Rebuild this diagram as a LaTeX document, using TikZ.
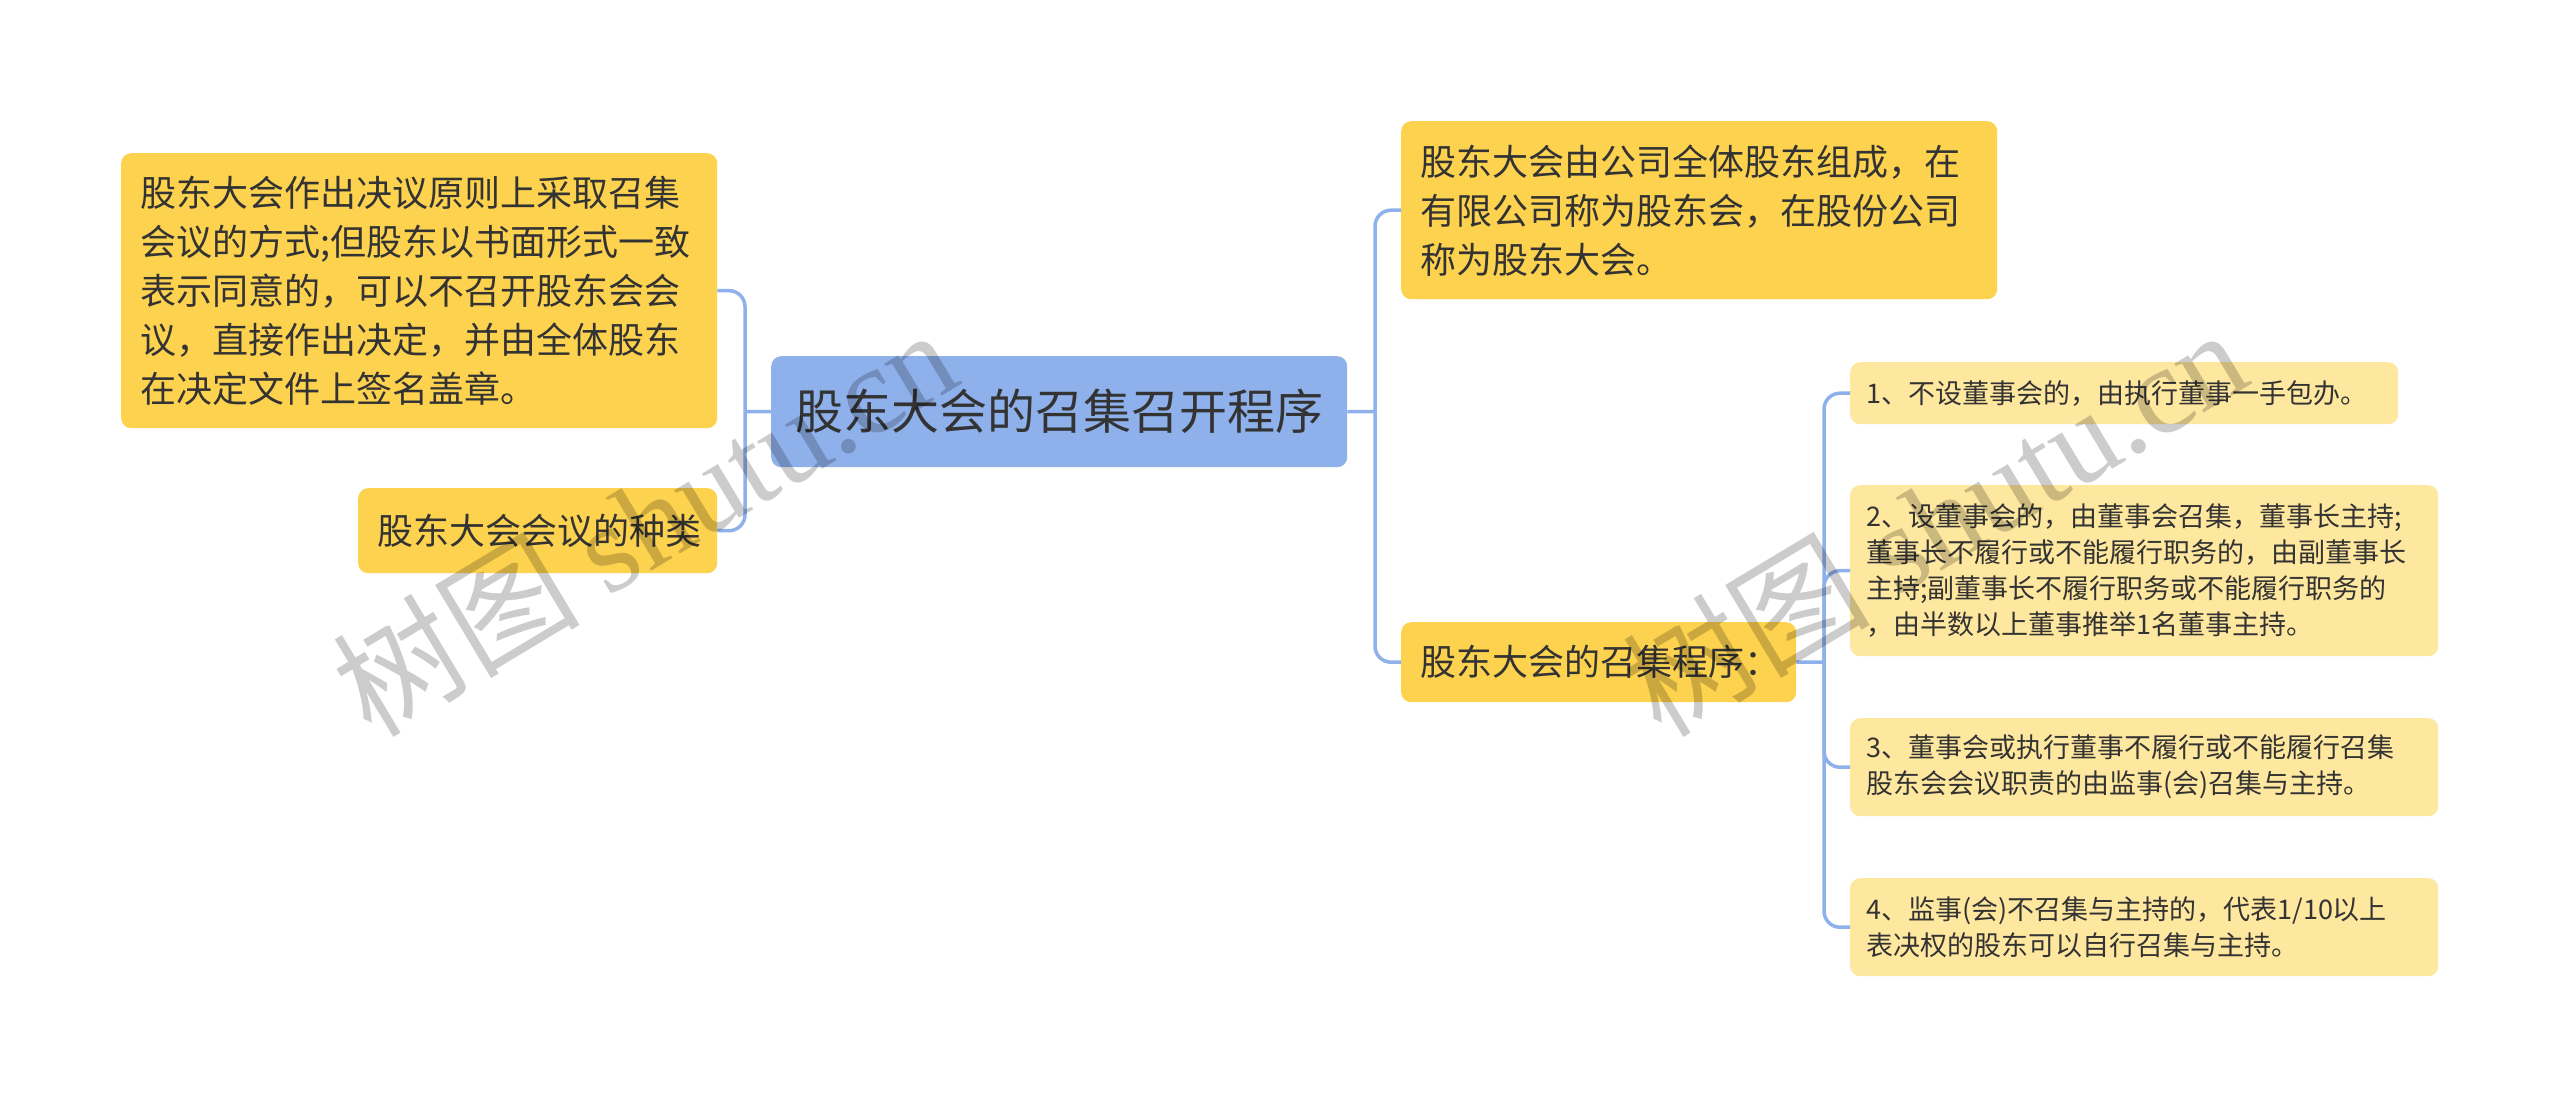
\documentclass[tikz,border=0pt]{standalone}
\usepackage{fontspec}
\setmainfont{Noto Sans CJK SC}
\newfontfamily\wmfont{Liberation Serif}
\definecolor{rootblue}{HTML}{8FB1EB}
\definecolor{ylw}{HTML}{FDD24F}
\definecolor{lylw}{HTML}{FEE79E}
\definecolor{txt}{HTML}{333333}
\definecolor{conncol}{HTML}{8FB1EB}
\begin{document}
\begin{tikzpicture}[x=1pt,y=-1pt,
  box/.style={rounded corners=10pt, text=txt, inner xsep=19pt, inner ysep=0pt, align=left, anchor=north west},
  mainbox/.style={box, fill=ylw, font=\fontsize{36}{49}\selectfont},
  subbox/.style={box, fill=lylw, inner xsep=16pt, font=\fontsize{27}{36}\selectfont},
  rootbox/.style={rounded corners=10pt, fill=rootblue, text=txt, align=center, anchor=north west, font=\fontsize{48}{56}\selectfont},
  conn/.style={draw=conncol, line width=3.5pt, rounded corners=16pt},
  wm/.style={rotate=31, text=black, opacity=0.2, font=\fontsize{124}{130}\selectfont}
]
\useasboundingbox (0,0) rectangle (2560,1099);
\fill[white] (0,0) rectangle (2560,1099);

% root
\node[rootbox, minimum width=576pt, minimum height=111pt] (root) at (771,356) {股东大会的召集召开程序};

% left
\node[mainbox, text width=558pt, minimum height=275pt] (l1) at (121,153)
  {股东大会作出决议原则上采取召集\\会议的方式;但股东以书面形式一致\\表示同意的，可以不召开股东会会\\议，直接作出决定，并由全体股东\\在决定文件上签名盖章。};
\node[mainbox, text width=321pt, minimum height=85pt] (l2) at (358,488) {股东大会会议的种类};

% right
\node[mainbox, text width=558pt, minimum height=178pt] (r1) at (1401,121)
  {股东大会由公司全体股东组成，在\\有限公司称为股东会，在股份公司\\称为股东大会。};
\node[mainbox, text width=357pt, minimum height=80pt] (r2) at (1401,622) {股东大会的召集程序：};

% children
\node[subbox, text width=516pt, minimum height=62pt] (c1) at (1850,362) {1、不设董事会的，由执行董事一手包办。};
\node[subbox, text width=556pt, minimum height=171pt] (c2) at (1850,485)
  {2、设董事会的，由董事会召集，董事长主持;\\董事长不履行或不能履行职务的，由副董事长\\主持;副董事长不履行职务或不能履行职务的\\，由半数以上董事推举1名董事主持。};
\node[subbox, text width=556pt, minimum height=98pt] (c3) at (1850,718)
  {3、董事会或执行董事不履行或不能履行召集\\股东会会议职责的由监事(会)召集与主持。};
\node[subbox, text width=556pt, minimum height=98pt] (c4) at (1850,878)
  {4、监事(会)不召集与主持的，代表1/10以上\\表决权的股东可以自行召集与主持。};

% connectors
\coordinate (lj) at (745,411.5);
\coordinate (rj) at (1375,411.5);
\coordinate (cj) at (1824,662);
\draw[conn] (root.west) -- (lj);
\draw[conn] (lj) |- (l1.east);
\draw[conn] (lj) |- (l2.east);
\draw[conn] (root.east) -- (rj);
\draw[conn] (rj) |- (r1.west);
\draw[conn] (rj) |- (r2.west);
\draw[conn] (r2.east) -- (cj);
\draw[conn] (cj) |- (c1.west);
\draw[conn] (cj) |- (c2.west);
\draw[conn] (cj) |- (c3.west);
\draw[conn] (cj) |- (c4.west);

% watermarks
\node[wm] (wm1) at (644,521) {树图 {\wmfont shutu.cn}};
\node[wm] (wm2) at (1934,521) {树图 {\wmfont shutu.cn}};
\end{tikzpicture}
\end{document}
